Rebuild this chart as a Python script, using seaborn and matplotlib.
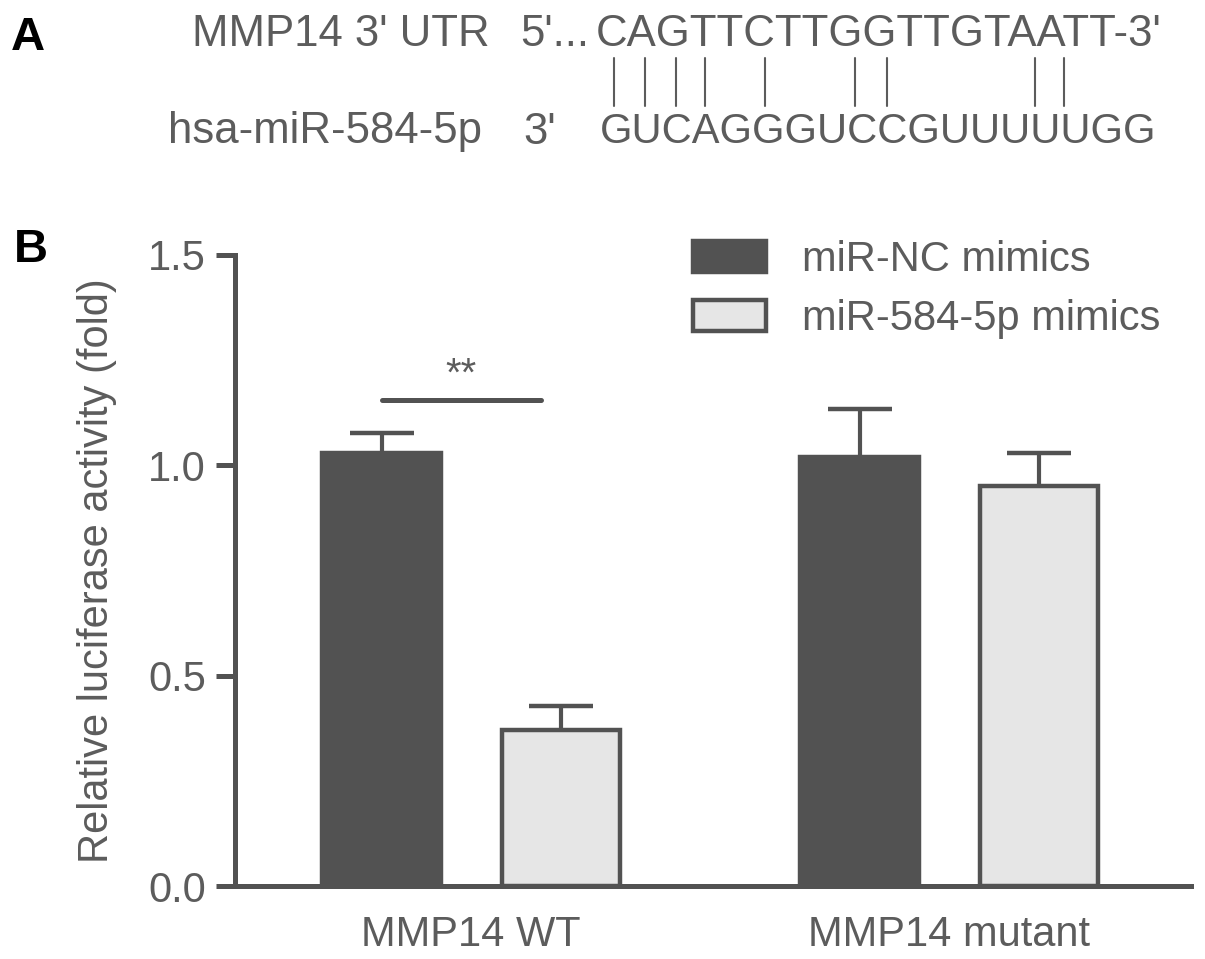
import matplotlib
matplotlib.use("Agg")
import matplotlib.pyplot as plt
from matplotlib.lines import Line2D
import seaborn as sns
import pandas as pd

# ---------------- data ----------------
groups = ["MMP14 WT", "MMP14 mutant"]
treatments = ["miR-NC mimics", "miR-584-5p mimics"]
nc_mean = [1.03, 1.02]
mir_mean = [0.37, 0.95]
nc_sd = [0.047, 0.114]
mir_sd = [0.057, 0.079]
sig_y = 1.155
sig_text = "**"
y_ticks = [0.0, 0.5, 1.0, 1.5]
y_tick_labels = ["0.0", "0.5", "1.0", "1.5"]
y_label = "Relative luciferase activity (fold)"

utr_label = "MMP14 3' UTR"
utr_prefix = "5'..."
utr_seq = "CAGTTCTTGGTTGTAATT"
utr_suffix = "-3'"
mir_label = "hsa-miR-584-5p"
mir_prefix = "3'"
mir_seq = "GUCAGGGUCCGUUUUUGG"
paired_idx = [0, 1, 2, 3, 5, 8, 9, 14, 15]

# ---------------- style ----------------
sns.set_theme(style="ticks")
plt.rcParams["font.family"] = ["Liberation Sans", "DejaVu Sans"]

DARK = "#525252"
LIGHT = "#e6e6e6"
TXT = "#5c5c5c"
FS = 30
FSA = 31.5

W, H = 1205, 959
fig = plt.figure(figsize=(W / 100, H / 100), dpi=100)
fig.patch.set_facecolor("white")
ax = fig.add_axes([235 / W, (H - 886) / H, (1191 - 235) / W, (886 - 255) / H])

df = pd.DataFrame({
    "group": groups * 2,
    "treatment": [treatments[0]] * len(groups) + [treatments[1]] * len(groups),
    "value": nc_mean + mir_mean,
})
sns.barplot(data=df, x="group", y="value", hue="treatment", order=groups,
            hue_order=treatments, palette=[DARK, LIGHT], saturation=1,
            width=0.75, gap=0.34, edgecolor=DARK, linewidth=3.2,
            errorbar=None, ax=ax)

for cont, means, sds in zip(ax.containers, [nc_mean, mir_mean], [nc_sd, mir_sd]):
    xs = [p.get_x() + p.get_width() / 2 for p in cont]
    ax.errorbar(xs, means, yerr=sds, fmt="none", ecolor=DARK, elinewidth=3,
                capsize=23, capthick=3.2, zorder=0.5)

# significance bracket
b1 = ax.containers[0][0]
b2 = ax.containers[1][0]
x0 = b1.get_x() + b1.get_width() / 2
x1 = b2.get_x() + b2.get_width() * 0.33
ax.plot([x0, x1], [sig_y, sig_y], color=DARK, lw=3.6, solid_capstyle="round")
ax.text((x0 + x1) / 2, sig_y + 0.035, sig_text, ha="center", va="baseline",
        fontsize=29, color=TXT)

ax.set_xlim(-0.494, 1.506)
ax.set_ylim(0, 1.5)
ax.set_yticks(y_ticks)
ax.set_yticklabels(y_tick_labels)
sns.despine(ax=ax)
for s in ["left", "bottom"]:
    ax.spines[s].set_linewidth(3.6)
    ax.spines[s].set_color(DARK)
ax.tick_params(axis="y", length=14, width=3.6, color=DARK, labelsize=FS,
               labelcolor=TXT, pad=7, direction="out")
ax.tick_params(axis="x", length=0, labelsize=FS, labelcolor=TXT, pad=21)
ax.set_xlabel("")
ax.set_ylabel(y_label, fontsize=FS, color=TXT, labelpad=22)

sns.move_legend(ax, "upper left", bbox_to_anchor=(693 / W, 1 - 240 / H),
                bbox_transform=fig.transFigure, frameon=False, title=None,
                fontsize=FS, handlelength=1.75, handleheight=0.77,
                handletextpad=0.86, labelspacing=0.45, borderpad=0,
                borderaxespad=0)
leg = ax.get_legend()
for t in leg.get_texts():
    t.set_color(TXT)

# ---------------- panel labels ----------------
fig.text(28 / W, 1 - 38 / H, "A", fontsize=34, fontweight="bold", color="black",
         ha="center", va="center")
fig.text(31 / W, 1 - 250 / H, "B", fontsize=34, fontweight="bold", color="black",
         ha="center", va="center")

# ---------------- panel A (sequence alignment) ----------------
top_y = 1 - 35 / H
bot_y = 1 - 132 / H
kw = dict(fontsize=FSA, color=TXT, va="center", ha="left")
fig.text(192 / W, top_y, utr_label, **kw)
fig.text(520 / W, top_y, utr_prefix, **kw)
t_top = fig.text(596 / W, top_y, utr_seq + utr_suffix, **kw)
fig.text(168 / W, bot_y, mir_label, **kw)
fig.text(523 / W, bot_y, mir_prefix, **kw)
t_bot = fig.text(600 / W, bot_y, mir_seq, fontsize=30, color=TXT, va="center", ha="left")

fig.canvas.draw()
renderer = fig.canvas.get_renderer()


def char_centers(tobj, s):
    prop = tobj.get_fontproperties()
    left = tobj.get_window_extent(renderer).x0
    out = []
    for i in range(len(s)):
        w0 = renderer.get_text_width_height_descent(s[:i], prop, ismath=False)[0] if i else 0
        w1 = renderer.get_text_width_height_descent(s[:i + 1], prop, ismath=False)[0]
        out.append(left + (w0 + w1) / 2)
    return out


ct = char_centers(t_top, utr_seq)
cb = char_centers(t_bot, mir_seq)
for i in paired_idx:
    xp = (ct[i] + cb[i]) / 2
    fig.add_artist(Line2D([xp / W, xp / W], [1 - 58 / H, 1 - 106 / H],
                          transform=fig.transFigure, color=TXT, lw=1.5))

fig.savefig("out.png", dpi=100, facecolor="white")
